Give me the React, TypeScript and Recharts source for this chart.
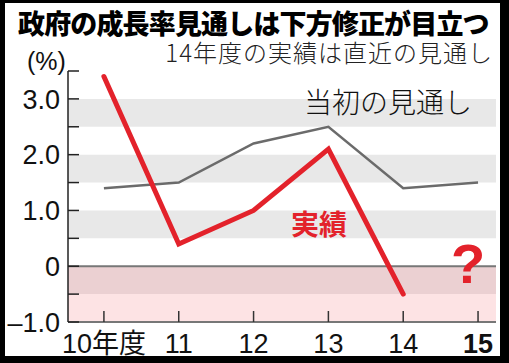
import { LineChart, Line, XAxis, YAxis, ReferenceArea, ReferenceLine } from 'recharts';

const years = [10, 11, 12, 13, 14, 15];
const yearLabels = ['10年度', '11', '12', '13', '14', '15'];
const initialForecast = [1.4, 1.5, 2.2, 2.5, 1.4, 1.5];
const actualGrowth: (number | null)[] = [3.4, 0.4, 1.0, 2.1, -0.5, null];
const yTicks = [-1, -0.5, 0, 0.5, 1, 1.5, 2, 2.5, 3, 3.5];
const yLabels: Record<string, string> = { '-1': '–1.0', '0': '0', '1': '1.0', '2': '2.0', '3': '3.0' };

const grayBands = [[2.5, 3], [1.5, 2], [0.5, 1]];

const chartData = years.map((y, i) => ({
    year: y,
    initial: initialForecast[i],
    actual: actualGrowth[i],
}));

const numFont = "'Liberation Sans Narrow', 'Liberation Sans', Arial, sans-serif";
const jpFont = "'Noto Sans CJK JP', sans-serif";

const YTick = (props: any) => {
    const { x, y, payload } = props;
    const label = yLabels[String(payload.value)];
    return (
        <g>
            <line x1={x} y1={y} x2={x + 11} y2={y} stroke="#222" strokeWidth={1.5} />
            {label && (
                <text x={x - 8} y={y} dy="0.36em" textAnchor="end" fontSize={27} fill="#111" fontFamily={numFont}>
                    {label}
                </text>
            )}
        </g>
    );
};

const XTick = (props: any) => {
    const { x, y, payload, index } = props;
    const last = index === years.length - 1;
    return (
        <g>
            <line x1={x} y1={y} x2={x} y2={y - 11} stroke="#333" strokeWidth={1.5} />
            <text x={x} y={y + 21} dy="0.36em" textAnchor="middle" fontSize={27} fill="#111"
                fontWeight={last ? 'bold' : 'normal'} fontFamily={last ? "'Liberation Sans', Arial, sans-serif" : `${numFont}, ${jpFont}`}>
                {yearLabels[years.indexOf(payload.value)]}
            </text>
        </g>
    );
};

export default function App() {
    return (
        <div style={{ position: 'absolute', left: 0, top: 0, width: 509, height: 363, background: '#000', overflow: 'hidden' }}>
            <div style={{ position: 'absolute', left: 5, top: 3, width: 495, height: 353, background: '#fff' }} />
            <div style={{ position: 'absolute', left: 0, top: 0 }}>
                <LineChart width={509} height={363} data={chartData} margin={{ top: 71, right: 13, bottom: 0, left: 5 }}>
                    {grayBands.map(([a, b]) => (
                        <ReferenceArea key={a} y1={a} y2={b} fill="#e8e8e8" fillOpacity={1} stroke="none" />
                    ))}
                    <ReferenceArea y1={-0.5} y2={0} fill="#ebd0d2" fillOpacity={1} stroke="none" />
                    <ReferenceArea y1={-1} y2={-0.5} fill="#fde3e4" fillOpacity={1} stroke="none" />
                    <ReferenceLine y={0} stroke="#777" strokeWidth={2} />
                    <XAxis dataKey="year" type="number" domain={[9.52, 15.24]} ticks={years} height={41}
                        axisLine={{ stroke: '#777', strokeWidth: 2 }} tickLine={false} tickSize={0} tickMargin={0}
                        tick={<XTick />} interval={0} />
                    <YAxis type="number" domain={[-1, 3.5]} ticks={yTicks} width={63} interval={0}
                        axisLine={{ stroke: '#222', strokeWidth: 1.5 }} tickLine={false} tickSize={0} tickMargin={0}
                        tick={<YTick />} />
                    <Line dataKey="initial" stroke="#6b6b6b" strokeWidth={2.5} dot={false} isAnimationActive={false} />
                    <Line dataKey="actual" stroke="#e3222b" strokeWidth={5} strokeLinecap="round" dot={false} isAnimationActive={false} />
                </LineChart>
            </div>
            <div style={{ position: 'absolute', left: 18, top: 9, fontFamily: jpFont, fontWeight: 900, fontSize: 27, lineHeight: '27px', letterSpacing: -0.85, color: '#000', whiteSpace: 'nowrap' }}>
                政府の成長率見通しは下方修正が目立つ
            </div>
            <div style={{ position: 'absolute', right: 16, top: 40, fontFamily: jpFont, fontWeight: 300, fontSize: 24, lineHeight: '24px', letterSpacing: 1, color: '#222', whiteSpace: 'nowrap' }}>
                14年度の実績は直近の見通し
            </div>
            <div style={{ position: 'absolute', left: 27, top: 47, fontFamily: numFont, fontSize: 25, lineHeight: '28px', color: '#111' }}>
                (%)
            </div>
            <div style={{ position: 'absolute', left: 304, top: 84, fontFamily: jpFont, fontWeight: 300, fontSize: 28, lineHeight: '34px', color: '#111', whiteSpace: 'nowrap' }}>
                当初の見通し
            </div>
            <div style={{ position: 'absolute', left: 291, top: 206, fontFamily: jpFont, fontWeight: 700, fontSize: 28, lineHeight: '34px', color: '#e3222b', whiteSpace: 'nowrap' }}>
                実績
            </div>
            <div style={{ position: 'absolute', left: 451, top: 236, fontFamily: "'Liberation Sans', Arial, sans-serif", fontWeight: 700, fontSize: 56, lineHeight: '56px', color: '#e3222b' }}>
                ?
            </div>
        </div>
    );
}
